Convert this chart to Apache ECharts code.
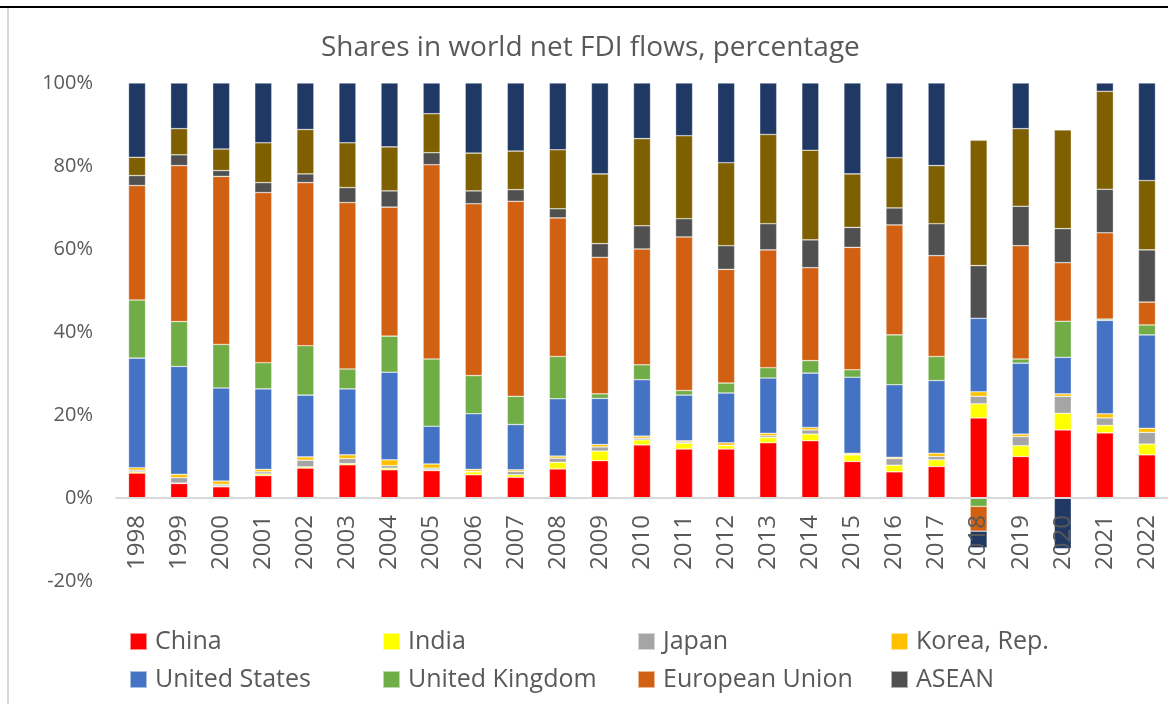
<!DOCTYPE html>
<html>
<head>
<meta charset="utf-8">
<script src="https://cdn.jsdelivr.net/npm/echarts@6/dist/echarts.min.js"></script>
<style>
html,body{margin:0;padding:0;background:#fff;}
#chart{width:1168px;height:704px;}
</style>
</head>
<body>
<div id="chart"></div>
<script>
var years = ['1998','1999','2000','2001','2002','2003','2004','2005','2006','2007','2008','2009','2010','2011','2012','2013','2014','2015','2016','2017','2018','2019','2020','2021','2022'];
var yTicks = [-20, 0, 20, 40, 60, 80, 100];

var china = [6.0,3.5,2.7,5.4,7.2,8.0,6.8,6.6,5.6,5.0,7.0,9.0,12.8,11.8,11.8,13.3,13.8,8.8,6.3,7.6,19.3,10.0,16.4,15.7,10.4];
var india = [0.3,0.1,0.2,0.4,0.3,0.3,0.4,0.2,0.7,0.6,1.6,2.3,1.2,1.4,0.8,1.3,1.6,1.6,1.6,1.6,3.4,2.6,4.0,1.8,2.6];
var japan = [0.4,1.3,0.4,0.5,1.6,1.2,0.6,0.4,0.1,0.8,1.0,1.0,0.4,0.3,0.1,0.4,1.0,0.1,1.6,0.8,1.8,2.2,4.1,1.8,2.8];
var korea = [0.6,0.8,0.8,0.6,0.8,0.9,1.4,1.0,0.5,0.4,0.5,0.6,0.5,0.3,0.6,0.6,0.6,0.3,0.3,0.8,1.1,0.6,0.6,1.0,1.0];
var us    = [26.4,26.0,22.4,19.4,14.9,15.9,21.1,9.1,13.4,10.9,13.8,11.1,13.6,11.0,12.0,13.3,13.1,18.3,17.5,17.5,17.7,17.1,8.8,22.5,22.5];
var uk    = [14.0,10.8,10.5,6.3,11.9,4.8,8.7,16.2,9.2,6.8,10.2,1.1,3.6,1.1,2.4,2.5,3.0,1.8,12.0,5.8,-2.0,1.0,8.7,0.3,2.4];
var eu    = [27.6,37.6,40.5,41.0,39.3,40.1,31.1,46.8,41.4,47.0,33.4,32.9,27.9,37.0,27.4,28.4,22.4,29.5,26.5,24.3,-6.0,27.3,14.1,20.8,5.5];
var asean = [2.4,2.6,1.4,2.4,2.1,3.6,3.9,2.9,3.1,2.8,2.2,3.3,5.6,4.4,5.7,6.3,6.7,4.8,4.1,7.7,12.7,9.5,8.2,10.5,12.6];
var otherGroup = [4.4,6.3,5.2,9.6,10.7,10.8,10.6,9.4,9.1,9.3,14.2,16.8,21.0,20.0,20.0,21.5,21.6,12.9,12.1,14.0,30.2,18.7,23.8,23.6,16.7];
var restGroup  = [17.9,11.0,15.9,14.4,11.2,14.4,15.4,7.4,16.9,16.4,16.1,21.9,13.4,12.7,19.2,12.4,16.2,21.9,18.0,19.9,-4.0,11.0,-12.2,2.0,23.5];

var seriesNames = ['China','India','Japan','Korea, Rep.','United States','United Kingdom','European Union','ASEAN','Other','Rest'];
var seriesData = [china, india, japan, korea, us, uk, eu, asean, otherGroup, restGroup];
var colors = ['#FF0000','#FFFF00','#A5A5A5','#FFC000','#4472C4','#70AD47','#D26012','#505050','#7F6000','#1F3864'];

var FONT = '"Open Sans", "Liberation Sans", sans-serif';
var TXT = '#595959';

var series = seriesNames.map(function(n, i){
  return {
    name: n,
    type: 'bar',
    stack: 'total',
    barWidth: 17,
    data: seriesData[i],
    itemStyle: { color: colors[i], borderColor: 'rgba(255,255,255,0.55)', borderWidth: 0.6 },
    emphasis: { disabled: true }
  };
});

function legendCol(left, names){
  return {
    orient: 'vertical',
    left: left,
    top: 624,
    icon: 'rect',
    itemWidth: 17,
    itemHeight: 17,
    itemGap: 13,
    selectedMode: false,
    data: names,
    textStyle: { fontFamily: FONT, fontSize: 25, color: TXT, lineHeight: 24, padding: [0,0,0,3] }
  };
}

var chart = echarts.init(document.getElementById('chart'));
chart.setOption({
  animation: false,
  color: colors,
  title: {
    text: 'Shares in world net FDI flows, percentage',
    left: 316,
    top: 29,
    textStyle: { fontFamily: FONT, fontSize: 28, fontWeight: 'normal', color: TXT }
  },
  legend: [
    legendCol(124, ['China','United States']),
    legendCol(377, ['India','United Kingdom']),
    legendCol(632, ['Japan','European Union']),
    legendCol(885, ['Korea, Rep.','ASEAN'])
  ],
  grid: { left: 116, right: -3, top: 83, height: 498, containLabel: false },
  xAxis: {
    type: 'category',
    data: years,
    z: 5,
    axisLine: { onZero: true, lineStyle: { color: '#D9D9D9', width: 2 } },
    axisTick: { show: false },
    axisLabel: { rotate: 90, margin: -66, fontFamily: FONT, fontSize: 24, color: TXT, interval: 0 }
  },
  yAxis: {
    type: 'value',
    min: yTicks[0],
    max: yTicks[yTicks.length - 1],
    interval: 20,
    axisLine: { show: false },
    axisTick: { show: false },
    splitLine: { show: false },
    axisLabel: { formatter: '{value}%', margin: 23, fontFamily: FONT, fontSize: 20, color: TXT }
  },
  graphic: [
    { type: 'line', shape: { x1: 0, y1: 7, x2: 1168, y2: 7 }, style: { stroke: '#000', lineWidth: 2 } },
    { type: 'line', shape: { x1: 8, y1: 8, x2: 8, y2: 704 }, style: { stroke: '#D9D9D9', lineWidth: 2 } }
  ],
  series: series
});
</script>
</body>
</html>
